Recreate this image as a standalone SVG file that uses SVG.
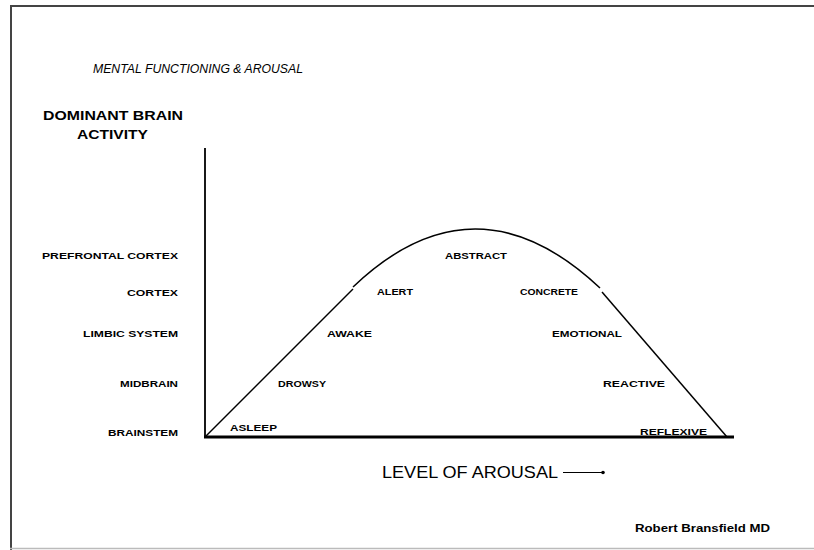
<svg xmlns="http://www.w3.org/2000/svg" width="814" height="550" viewBox="0 0 814 550">
<style>
.t{font-family:"Liberation Sans",Arial,sans-serif;fill:#000}
.s{font-size:9px;font-weight:bold}
.c{font-size:9px;font-weight:bold}
</style>
<rect width="814" height="550" fill="#fff"/>
<g id="frame">
<line x1="11" y1="6" x2="814" y2="6" stroke="#444" stroke-width="2"/>
<line x1="11" y1="5" x2="11" y2="550" stroke="#444" stroke-width="2"/>
<line x1="10" y1="548.5" x2="814" y2="548.5" stroke="#bbb" stroke-width="1.5"/>
</g>
<text id="title" class="t" x="93" y="73" font-size="13.5" font-style="italic" textLength="210" lengthAdjust="spacingAndGlyphs">MENTAL FUNCTIONING &amp; AROUSAL</text>
<g id="ylabel">
<text class="t" x="43" y="120" font-size="13" font-weight="bold" textLength="140" lengthAdjust="spacingAndGlyphs">DOMINANT BRAIN</text>
<text class="t" x="77" y="139" font-size="13" font-weight="bold" textLength="71" lengthAdjust="spacingAndGlyphs">ACTIVITY</text>
</g>
<g id="axes">
<line x1="205" y1="148" x2="205" y2="438" stroke="#000" stroke-width="1.8"/>
<line x1="204" y1="437" x2="734" y2="437" stroke="#000" stroke-width="3"/>
</g>
<g id="levels">
<text class="t s" x="42" y="259" textLength="136" lengthAdjust="spacingAndGlyphs">PREFRONTAL CORTEX</text>
<text class="t s" x="127" y="296" textLength="51" lengthAdjust="spacingAndGlyphs">CORTEX</text>
<text class="t s" x="83" y="337" textLength="95" lengthAdjust="spacingAndGlyphs">LIMBIC SYSTEM</text>
<text class="t s" x="120" y="387" textLength="58" lengthAdjust="spacingAndGlyphs">MIDBRAIN</text>
<text class="t s" x="108" y="436" textLength="70" lengthAdjust="spacingAndGlyphs">BRAINSTEM</text>
</g>
<g id="connectors" fill="none" stroke="#000" stroke-width="1.5">
<path d="M206 436 L353 289"/>
<path d="M353 287 Q475 170.5 600 288"/>
<path d="M602 292 L727 437"/>
</g>
<g id="states">
<text class="t c" x="230" y="431" textLength="47" lengthAdjust="spacingAndGlyphs">ASLEEP</text>
<text class="t c" x="278" y="387" textLength="48" lengthAdjust="spacingAndGlyphs">DROWSY</text>
<text class="t c" x="327" y="337" textLength="45" lengthAdjust="spacingAndGlyphs">AWAKE</text>
<text class="t c" x="377" y="295" textLength="36" lengthAdjust="spacingAndGlyphs">ALERT</text>
<text class="t c" x="445" y="259" textLength="62" lengthAdjust="spacingAndGlyphs">ABSTRACT</text>
<text class="t c" x="520" y="295" textLength="58" lengthAdjust="spacingAndGlyphs">CONCRETE</text>
<text class="t c" x="552" y="337" textLength="70" lengthAdjust="spacingAndGlyphs">EMOTIONAL</text>
<text class="t c" x="603" y="387" textLength="62" lengthAdjust="spacingAndGlyphs">REACTIVE</text>
<text class="t c" x="640" y="434.5" textLength="67" lengthAdjust="spacingAndGlyphs">REFLEXIVE</text>
</g>
<g id="xlabel">
<text class="t" x="382" y="478" font-size="17" textLength="176" lengthAdjust="spacingAndGlyphs">LEVEL OF AROUSAL</text>
<line x1="563" y1="472.5" x2="603" y2="472.5" stroke="#000" stroke-width="1.2"/>
<circle cx="603" cy="472.5" r="1.8" fill="#000"/>
</g>
<text id="author" class="t" x="635" y="532" font-size="10" font-weight="bold" textLength="135" lengthAdjust="spacingAndGlyphs">Robert Bransfield  MD</text>
</svg>
